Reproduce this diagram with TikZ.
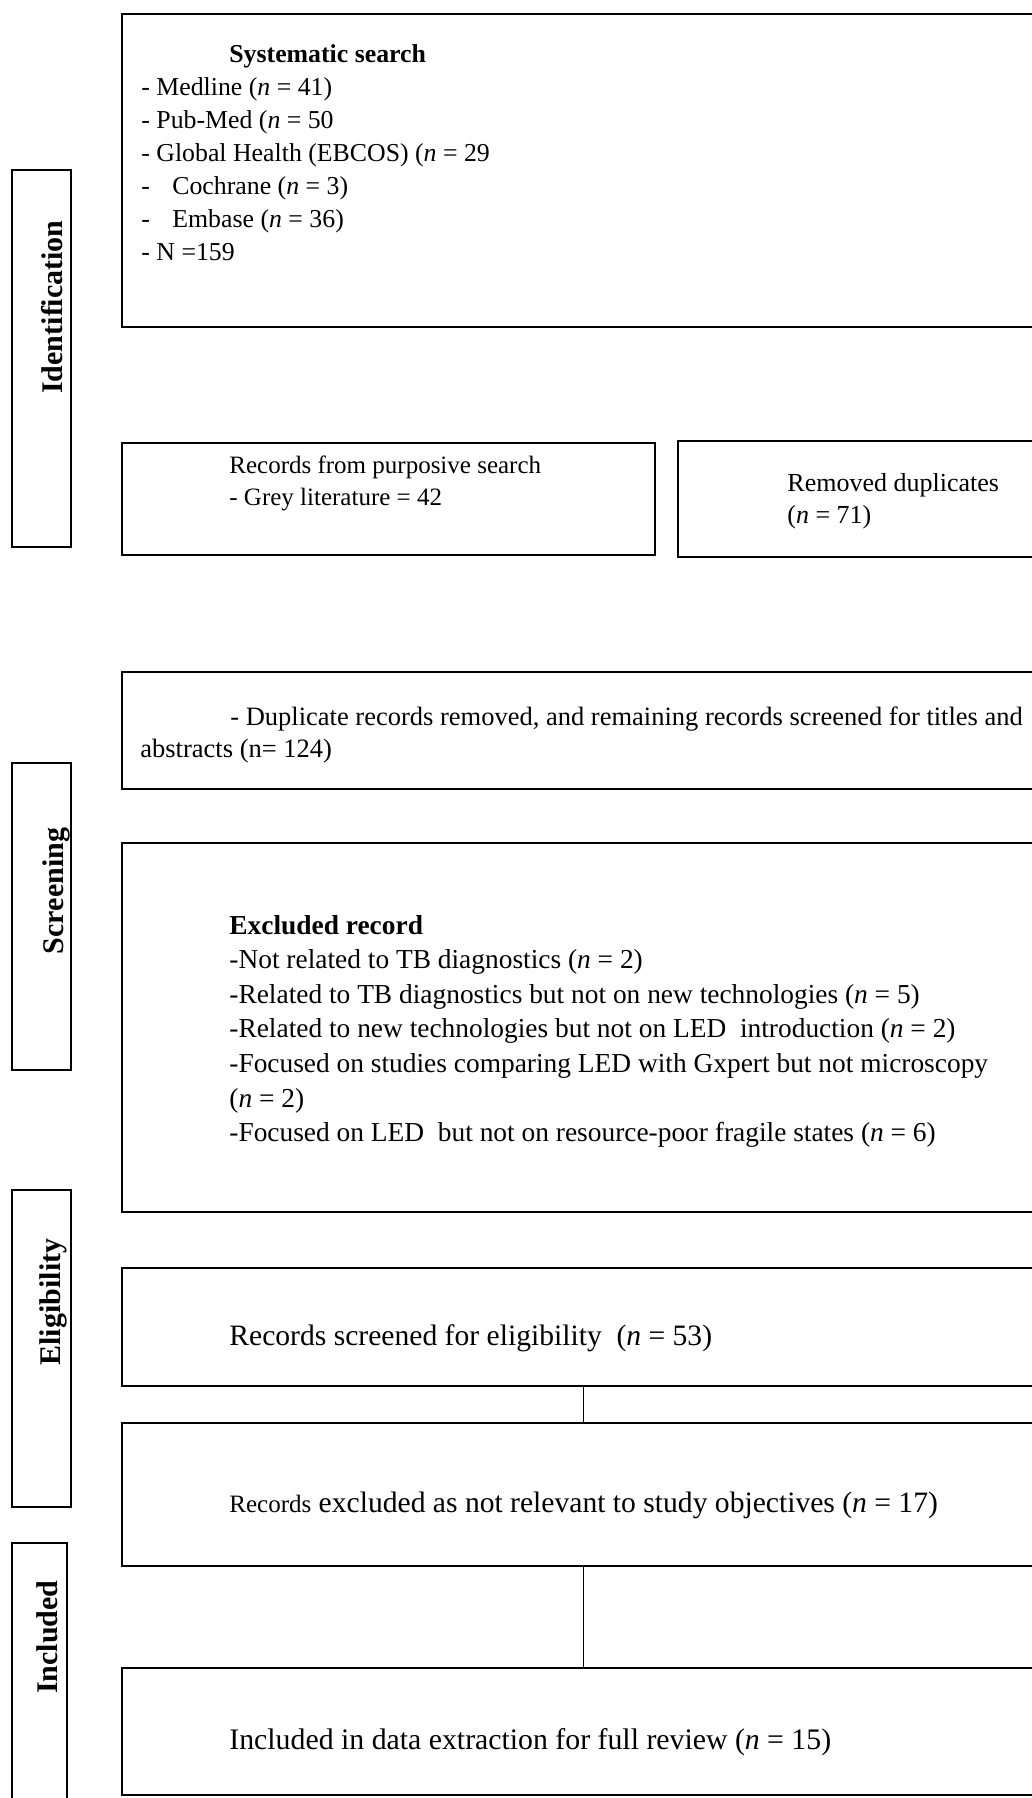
\documentclass[tikz,border=0pt]{standalone}
\usepackage{fontspec}
\setmainfont{Liberation Serif}
\usetikzlibrary{fit}

\begin{document}
\begin{tikzpicture}[x=0.5pt, y=-0.5pt,
        box/.style={draw, line width=1.1pt, inner sep=0pt},
        stagelbl/.style={rotate=90, anchor=base, inner sep=0pt, font=\fontsize{15}{18}\selectfont\bfseries},
        txt/.style={anchor=base west, inner sep=0pt},
        link/.style={line width=0.45pt}]
        \useasboundingbox (0,0) rectangle (1032,1798);
        \clip (0,0) rectangle (1032,1798);

        % Stage boxes on the left
        \node[box, fit={(12,170) (71,547)}] (sid) {};
        \node[box, fit={(12,763) (71,1070)}] (sscr) {};
        \node[box, fit={(12,1190) (71,1507)}] (selig) {};
        \node[box, fit={(12,1543) (67,1812)}] (sinc) {};
        \node[stagelbl] (lid) at (62,307) {Identification};
        \node[stagelbl] (lscr) at (63,891) {Screening};
        \node[stagelbl] (lelig) at (61,1302) {Eligibility};
        \node[stagelbl] (linc) at (57,1637) {Included};

        % Main boxes
        \node[box, fit={(122,14) (1044,327)}] (search) {};
        \node[box, fit={(122,443) (655,555)}] (grey) {};
        \node[box, fit={(678,441) (1044,557)}] (dupl) {};
        \node[box, fit={(122,672) (1044,789)}] (screen) {};
        \node[box, fit={(122,843) (1044,1212)}] (excl) {};
        \node[box, fit={(122,1268) (1044,1386)}] (elig) {};
        \node[box, fit={(122,1423) (1044,1566)}] (notrel) {};
        \node[box, fit={(122,1668) (1044,1795)}] (incl) {};

        % Texts
        \node[txt, font=\fontsize{12.9}{16.45}\selectfont] (searcht) at (141,62.7) {\begin{tabular}[t]{@{}l@{}}
                \hspace*{44pt}\textbf{Systematic search}\\
                - Medline (\textit{n} = 41)\\
                - Pub-Med (\textit{n} = 50\\
                - Global Health (EBCOS) (\textit{n} = 29\\
                -\hspace*{11.2pt}Cochrane (\textit{n} = 3)\\
                -\hspace*{11.2pt}Embase (\textit{n} = 36)\\
                - N =159
            \end{tabular}};
        \node[txt, font=\fontsize{12.5}{16}\selectfont] (greyt) at (229,473) {\begin{tabular}[t]{@{}l@{}}
                Records from purposive search\\
                - Grey literature = 42
            \end{tabular}};
        \node[txt, font=\fontsize{13}{16}\selectfont] (duplt) at (787,491) {\begin{tabular}[t]{@{}l@{}}
                Removed duplicates\\
                (\textit{n} = 71)
            \end{tabular}};
        \node[txt, font=\fontsize{13.25}{16}\selectfont] (screent) at (140,725) {\begin{tabular}[t]{@{}l@{}}
                \hspace*{45pt}- Duplicate records removed, and remaining records screened for titles and\\
                abstracts (n= 124)
            \end{tabular}};
        \node[txt, font=\fontsize{13.7}{17.33}\selectfont] (exclt) at (229,934) {\begin{tabular}[t]{@{}l@{}}
                \textbf{Excluded record}\\
                -Not related to TB diagnostics (\textit{n} = 2)\\
                -Related to TB diagnostics but not on new technologies (\textit{n} = 5)\\
                -Related to new technologies but not on LED\ \ introduction (\textit{n} = 2)\\
                -Focused on studies comparing LED with Gxpert but not microscopy\\
                (\textit{n} = 2)\\
                -Focused on LED\ \ but not on resource-poor fragile states (\textit{n} = 6)
            \end{tabular}};
        \node[txt, font=\fontsize{14.8}{18}\selectfont] (eligt) at (229,1345) {Records screened for eligibility\ \ (\textit{n} = 53)};
        \node[txt, font=\fontsize{14.8}{18}\selectfont] (notrelt) at (229,1512) {{\fontsize{12.5}{15}\selectfont Records} excluded as not relevant to study objectives (\textit{n} = 17)};
        \node[txt, font=\fontsize{14.9}{18}\selectfont] (inclt) at (229,1749) {Included in data extraction for full review (\textit{n} = 15)};

        % Connectors
        \draw[link] (elig) -- (notrel);
        \draw[link] (notrel) -- (incl);
    \end{tikzpicture}
\end{document}
